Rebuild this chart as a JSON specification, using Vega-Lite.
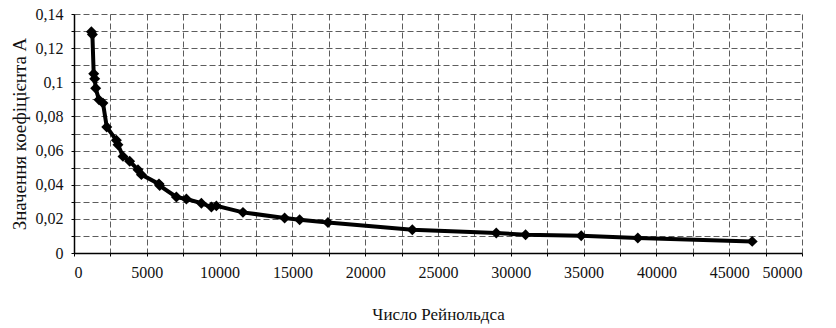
{
  "$schema": "https://vega.github.io/schema/vega-lite/v6.json",
  "width": 728,
  "height": 239,
  "autosize": "none",
  "padding": {"left": 74, "top": 14, "right": 34, "bottom": 75},
  "background": "white",
  "config": {
    "view": {"stroke": null},
    "axis": {
      "labelFont": "Liberation Serif",
      "titleFont": "Liberation Serif",
      "labelFontSize": 16,
      "titleFontSize": 17,
      "titleFontWeight": "normal",
      "labelColor": "#111",
      "titleColor": "#111",
      "gridColor": "#333",
      "gridDash": [6, 3],
      "gridWidth": 0.8,
      "domainColor": "#000",
      "domainWidth": 1.5,
      "tickColor": "#000",
      "tickSize": 3,
      "labelOverlap": false,
      "labelPadding": 8
    }
  },
  "data": {
    "values": [
      {"re": 1195, "a": 0.1296},
      {"re": 1263, "a": 0.128},
      {"re": 1353, "a": 0.105},
      {"re": 1421, "a": 0.102},
      {"re": 1490, "a": 0.0965},
      {"re": 1716, "a": 0.0897},
      {"re": 1991, "a": 0.0878},
      {"re": 2250, "a": 0.0738},
      {"re": 2911, "a": 0.066},
      {"re": 3021, "a": 0.0634},
      {"re": 3364, "a": 0.0566},
      {"re": 3824, "a": 0.0537},
      {"re": 4394, "a": 0.0488},
      {"re": 4628, "a": 0.0459},
      {"re": 5836, "a": 0.0405},
      {"re": 5884, "a": 0.0395},
      {"re": 7031, "a": 0.0328},
      {"re": 7718, "a": 0.0316},
      {"re": 8747, "a": 0.0292},
      {"re": 9434, "a": 0.0269},
      {"re": 9777, "a": 0.0276},
      {"re": 11604, "a": 0.0238},
      {"re": 14467, "a": 0.0205},
      {"re": 15497, "a": 0.0195},
      {"re": 17440, "a": 0.0179},
      {"re": 23235, "a": 0.0136},
      {"re": 29002, "a": 0.0117},
      {"re": 31013, "a": 0.0107},
      {"re": 34837, "a": 0.0101},
      {"re": 38724, "a": 0.0088},
      {"re": 46580, "a": 0.0068}
    ]
  },
  "encoding": {
    "x": {
      "field": "re",
      "type": "quantitative",
      "scale": {"domain": [0, 50000], "nice": false},
      "axis": {
        "title": "Число Рейнольдса",
        "titlePadding": 26,
        "values": [0, 2500, 5000, 7500, 10000, 12500, 15000, 17500, 20000, 22500, 25000, 27500, 30000, 32500, 35000, 37500, 40000, 42500, 45000, 47500, 50000],
        "labelExpr": "datum.value % 5000 === 0 ? format(datum.value, 'd') : ''"
      }
    },
    "y": {
      "field": "a",
      "type": "quantitative",
      "scale": {"domain": [0, 0.14], "nice": false},
      "axis": {
        "title": "Значення коефіцієнта А",
        "titleFontSize": 19,
        "titlePadding": 6,
        "values": [0, 0.01, 0.02, 0.03, 0.04, 0.05, 0.06, 0.07, 0.08, 0.09, 0.1, 0.11, 0.12, 0.13, 0.14],
        "labelExpr": "round(datum.value * 100) % 2 === 0 ? replace(format(datum.value, '.2~f'), '.', ',') : ''"
      }
    }
  },
  "layer": [
    {"mark": {"type": "line", "color": "#000", "strokeWidth": 4}},
    {"mark": {"type": "point", "shape": "diamond", "filled": true, "color": "#000", "opacity": 1, "size": 120}}
  ]
}
